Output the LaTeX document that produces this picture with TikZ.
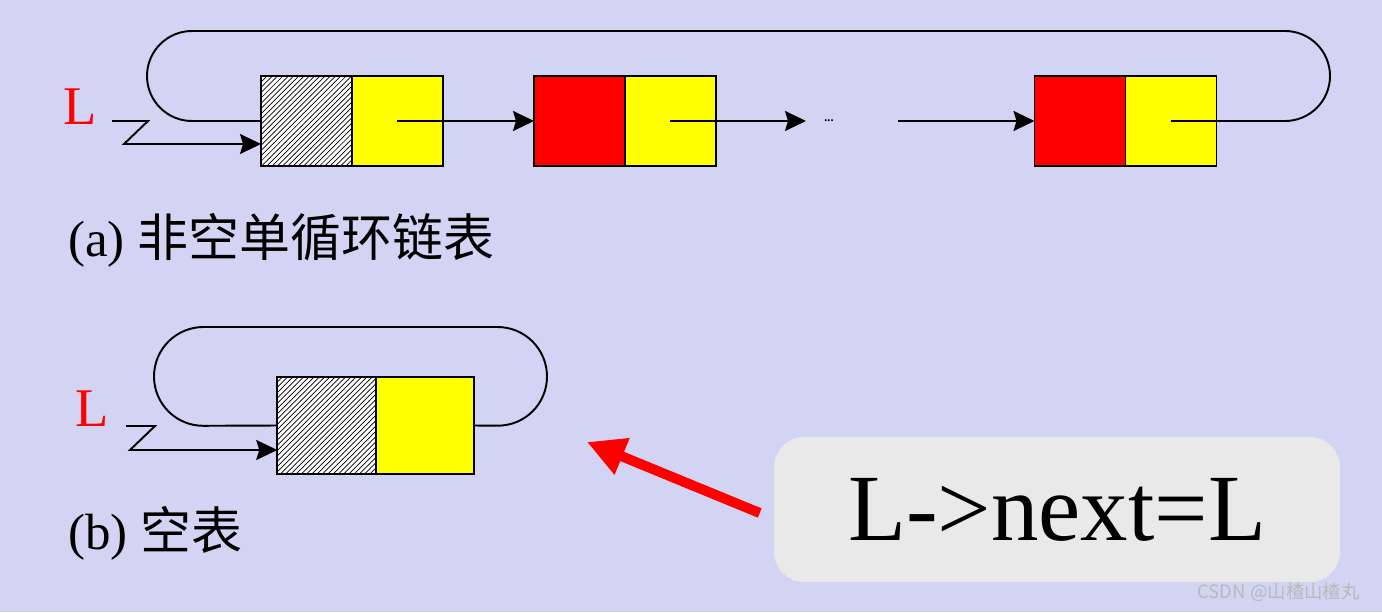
\documentclass[tikz,border=0pt]{standalone}
\usepackage{fontspec}
\setmainfont{Liberation Serif}
\newfontfamily\cjk{Noto Sans CJK SC}
\usetikzlibrary{arrows.meta,patterns,positioning}
\definecolor{bglav}{RGB}{211,211,243}
\definecolor{notegray}{RGB}{233,233,233}
\definecolor{cellyellow}{RGB}{255,255,0}
\definecolor{cellred}{RGB}{255,0,0}

\begin{document}
\begin{tikzpicture}[x=0.02cm,y=-0.02cm,
  cell/.style={draw,line width=1.1pt,minimum width=1.82cm,minimum height=1.8cm,inner sep=0pt,outer sep=0pt},
  bigcell/.style={cell,minimum width=1.97cm,minimum height=1.94cm},
  hatched/.style={preaction={fill=white},pattern=north east lines},
  link/.style={line width=1.1pt,-{Stealth[length=0.42cm,width=0.4cm,inset=0.06cm]}},
  ring/.style={line width=1.1pt},
  lbl/.style={text=cellred,font=\fontsize{31}{31}\selectfont},
  caption/.style={anchor=west,inner sep=0pt,font=\fontsize{29}{32}\selectfont}]
\fill[bglav] (0,0) rectangle (1382,612);

% (a)
\node[cell,hatched] (head) at (306.5,121) {};
\node[cell,fill=cellyellow,right=0pt of head] (headptr) {};
\node[cell,fill=cellred] (first) at (579.5,121) {};
\node[cell,fill=cellyellow,right=0pt of first] (firstptr) {};
\node[cell,fill=cellred] (last) at (1080,121) {};
\node[cell,fill=cellyellow,right=0pt of last] (lastptr) {};
\coordinate (gapin) at (806,121);
\coordinate (gapout) at (898,121);
\node[inner sep=0pt,font=\bfseries\fontsize{7}{7}\selectfont] (dots) at (829,121) {...};
\draw[link] (headptr.center) -- (first.west);
\draw[link] (firstptr.center) -- (gapin);
\draw[link] (gapout) -- (last.west);
\draw[ring,rounded corners=0.9cm] (lastptr.center) -- (1330,121) -- (1330,31) -- (147,31) -- (147,121) -- (head.west);
\node[lbl] (La) at (80,107) {L};
\coordinate (za) at (112,121);
\draw[link] (za) -- ++(36,0) -- ++(-24,23) -- ([yshift=-0.46cm]head.west);
\node[caption] (capa) at (68,240) {(a) {\cjk 非空单循环链表}};

% (b)
\node[bigcell,hatched] (bhead) at (326.5,425.5) {};
\node[bigcell,fill=cellyellow,right=0pt of bhead] (bptr) {};
\draw[ring,rounded corners=0.99cm] (bptr.east) -- (547,426) -- (547,327) -- (154,327) -- (154,426) -- (bhead.west);
\node[lbl] (Lb) at (92,409) {L};
\coordinate (zb) at (126,426);
\draw[link] (zb) -- ++(29,0) -- ++(-25,24) -- ([yshift=-0.49cm]bhead.west);
\node[caption] (capb) at (68,533) {(b) {\cjk 空表}};

% note
\node[fill=notegray,rounded corners=0.6cm,minimum width=11.32cm,minimum height=2.9cm,
  font=\fontsize{54}{54}\selectfont] (note) at (1057,509.5) {L->next=L};
\coordinate (target) at (587,442);
\draw[cellred,line width=0.2cm,-{Triangle[length=0.76cm,width=0.74cm]}] ([xshift=-0.28cm,yshift=-0.07cm]note.west) -- (target);

\node[text=gray!55,font=\cjk\fontsize{10.5}{10.5}\selectfont,anchor=east] (mark) at (1366,592) {CSDN @山楂山楂丸};
\end{tikzpicture}
\end{document}
